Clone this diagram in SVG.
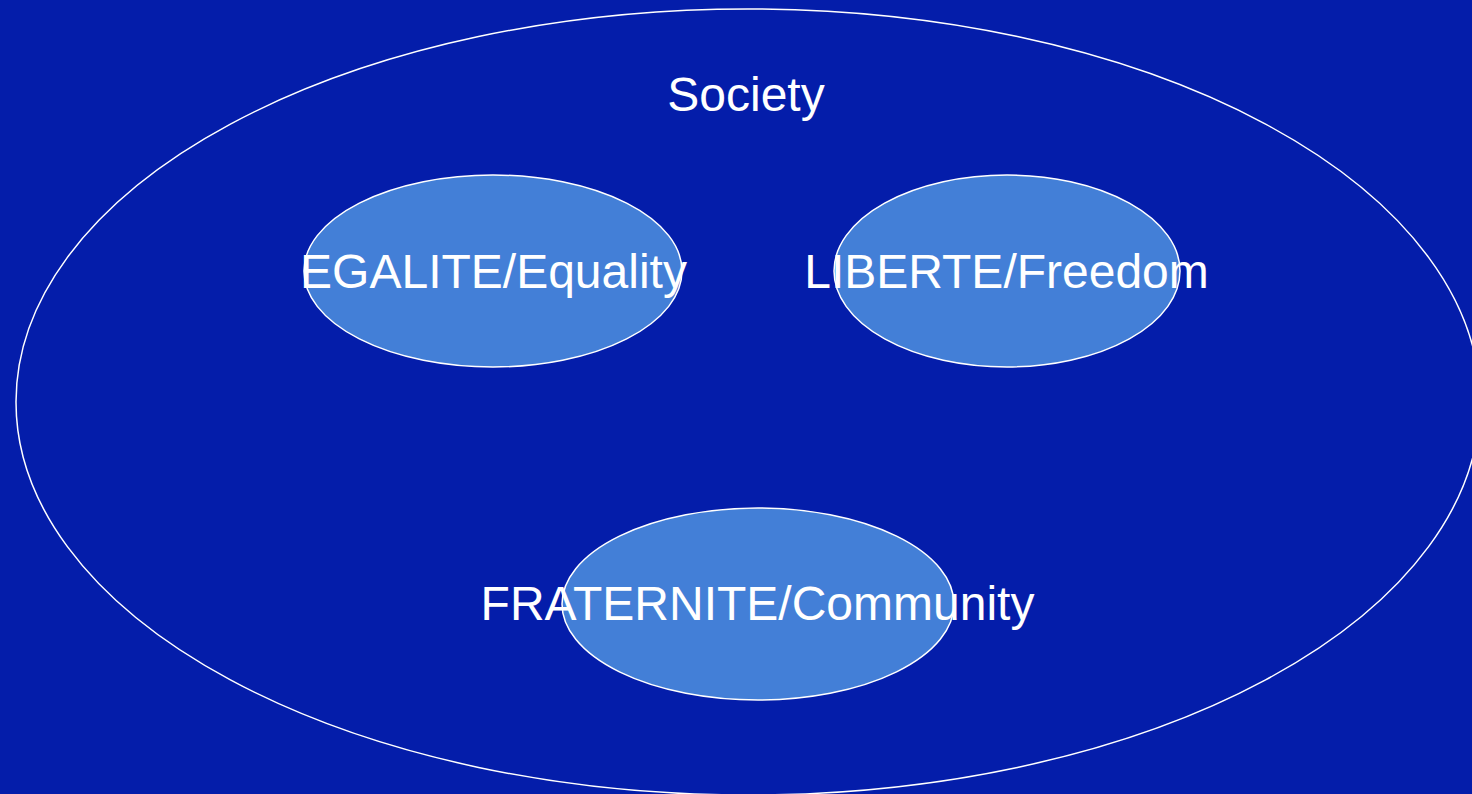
<svg xmlns="http://www.w3.org/2000/svg" width="1472" height="794" viewBox="0 0 1472 794">
<style>
.bg{fill:#041DAA}
.outer{fill:none;stroke:#ffffff;stroke-width:1.5}
.node{fill:#437FD7;stroke:#ffffff;stroke-width:1.5}
.lbl{font-family:"Liberation Sans",Arial,sans-serif;font-size:48px;fill:#ffffff;text-anchor:middle}
</style>
<rect class="bg" x="0" y="0" width="1472" height="794"/>
<g id="society">
<ellipse class="outer" cx="748" cy="402" rx="732" ry="393"/>
<text class="lbl" x="746" y="111">Society</text>
</g>
<g id="egalite">
<ellipse class="node" cx="493" cy="271" rx="189" ry="96"/>
<text class="lbl" x="493.5" y="288">EGALITE/Equality</text>
</g>
<g id="liberte">
<ellipse class="node" cx="1007" cy="271" rx="173" ry="96"/>
<text class="lbl" x="1006.5" y="288">LIBERTE/Freedom</text>
</g>
<g id="fraternite">
<ellipse class="node" cx="758" cy="604" rx="196" ry="96"/>
<text class="lbl" x="757.5" y="620">FRATERNITE/Community</text>
</g>
<g id="connectors"/>
</svg>
